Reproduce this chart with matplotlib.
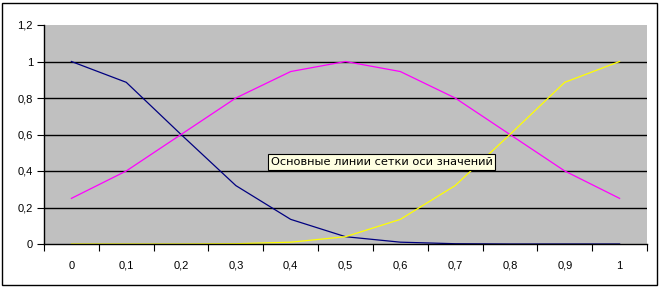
import matplotlib
matplotlib.use("Agg")
import matplotlib.pyplot as plt
from matplotlib.patches import Rectangle

categories = ["0", "0,1", "0,2", "0,3", "0,4", "0,5", "0,6", "0,7", "0,8", "0,9", "1"]
navy_vals = [1.0, 0.886, 0.6, 0.32, 0.135, 0.04, 0.01, 0.0015, 0.0, 0.0, 0.0]
magenta_vals = [0.25, 0.4, 0.6, 0.8, 0.945, 1.0, 0.945, 0.8, 0.6, 0.4, 0.25]
yellow_vals = [0.0, 0.0, 0.0, 0.0015, 0.01, 0.04, 0.135, 0.32, 0.6, 0.886, 1.0]
y_ticks = [0, 0.2, 0.4, 0.6, 0.8, 1.0, 1.2]
y_labels = ["0", "0,2", "0,4", "0,6", "0,8", "1", "1,2"]
tooltip_text = "Основные линии сетки оси значений"

plt.rcParams['font.family'] = ['Liberation Sans', 'DejaVu Sans']

W, H = 660, 287
fig = plt.figure(figsize=(W / 100, H / 100), dpi=100)
fig.patch.set_facecolor("white")

# outer chart border
fig.add_artist(Rectangle((2 / W, 2 / H), 655 / W, 282 / H, transform=fig.transFigure,
                         fill=False, edgecolor="black", linewidth=1.0))

left, right, top, bottom = 44, 647, 25, 244
ax = fig.add_axes([left / W, (H - bottom) / H, (right - left) / W, (bottom - top) / H])
ax.set_facecolor("#C0C0C0")

xs = [i + 0.5 for i in range(len(categories))]
ax.plot(xs, navy_vals, color="#000080", lw=0.9, zorder=3)
ax.plot(xs, magenta_vals, color="#FF00FF", lw=0.9, zorder=3)
ax.plot(xs, yellow_vals, color="#FFFF00", lw=0.9, zorder=3)

ax.set_xlim(0, len(categories))
ax.set_ylim(0, 1.2)
ax.set_yticks(y_ticks)
ax.set_yticklabels(y_labels)
ax.set_xticks(range(len(categories) + 1))
ax.set_xticklabels([])
ax.set_xticks(xs, minor=True)
ax.set_xticklabels(categories, minor=True)
ax.tick_params(axis="x", which="minor", length=0, pad=12, labelsize=8)
ax.tick_params(axis="x", which="major", length=5, width=0.8, direction="out", color="black")
ax.tick_params(axis="y", length=5, width=0.8, direction="out", pad=3, labelsize=8, color="black")

for y in y_ticks[1:-1]:
    ax.axhline(y, color="black", lw=1.0, zorder=2)

for s in ["top", "right"]:
    ax.spines[s].set_visible(False)
for s in ["left", "bottom"]:
    ax.spines[s].set_color("black")
    ax.spines[s].set_linewidth(1.0)
    ax.spines[s].set_zorder(4)

# tooltip
fig.text(271 / W, (H - 162) / H, tooltip_text, fontsize=8.2, family=['DejaVu Sans'],
         va="center", ha="left",
         bbox=dict(boxstyle="square,pad=0.22", facecolor="#FFFFE1", edgecolor="black", linewidth=0.8))

fig.savefig("out.png", dpi=100)
